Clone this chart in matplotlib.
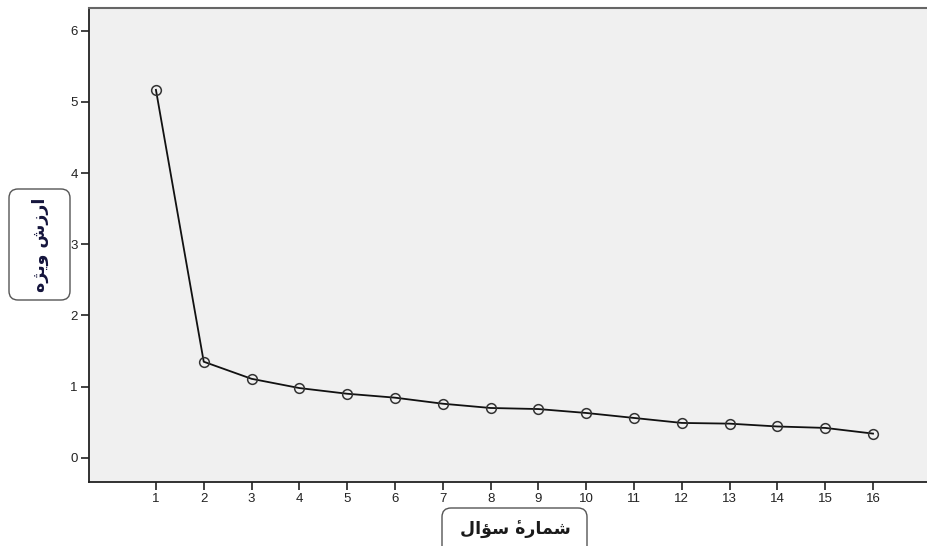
import matplotlib
matplotlib.use("Agg")
import matplotlib.pyplot as plt
import matplotlib.patches as mpatches
from matplotlib.transforms import IdentityTransform

# Data
components = list(range(1, 17))
eigenvalues = [5.17, 1.35, 1.11, 0.98, 0.90, 0.845, 0.76, 0.70,
               0.685, 0.63, 0.56, 0.49, 0.48, 0.44, 0.42, 0.34]
y_ticks = [0, 1, 2, 3, 4, 5, 6]
# Persian labels in visual (shaped) order: "ارزش ویژه" and "شمارهٔ سؤال"
y_label = "\uFEE9\uFB8B\uFBFE\uFEED \uFEB5\uFEAF\uFEAD\uFE8D"
x_label = "\uFEDD\uFE8D\uFE86\uFEB3 \u0654\uFEE9\uFEAD\uFE8E\uFEE4\uFEB7"

W, H = 928, 546
fig = plt.figure(figsize=(W / 100, H / 100), dpi=100)
fig.patch.set_facecolor("white")
ax = fig.add_axes([89 / W, (H - 482) / H, (W - 89) / W, (482 - 8) / H])
ax.set_facecolor("#f0f0f0")

ax.plot(components, eigenvalues, color="#111111", linewidth=1.3,
        marker="o", markersize=7, markerfacecolor="none",
        markeredgecolor="#333333", markeredgewidth=1.1)

ax.set_xlim(-0.40, 17.15)
ax.set_ylim(-0.34, 6.32)
ax.set_xticks(components)
ax.set_yticks(y_ticks)
ax.tick_params(direction="out", length=6, width=1.2, color="#222222",
               labelsize=9.5, labelcolor="#222222", pad=2)
for lab in ax.get_xticklabels() + ax.get_yticklabels():
    lab.set_family(["Liberation Sans", "DejaVu Sans"])

ax.spines["right"].set_visible(False)
ax.spines["top"].set_color("#666666")
ax.spines["top"].set_linewidth(1.5)
ax.spines["left"].set_color("#222222")
ax.spines["left"].set_linewidth(1.3)
ax.spines["bottom"].set_color("#222222")
ax.spines["bottom"].set_linewidth(1.3)

# Label boxes (pixel coordinates, origin bottom-left)
ybox = mpatches.FancyBboxPatch((9, 246), 61, 111,
                               boxstyle="round,pad=0,rounding_size=9",
                               transform=IdentityTransform(),
                               facecolor="white", edgecolor="#555555",
                               linewidth=1.0, zorder=5)
fig.patches.append(ybox)
fig.text(40 / W, 301 / H, y_label, rotation=90, ha="center", va="center",
         fontsize=12.5, fontweight="bold", color="#14143c",
         family=["DejaVu Sans"], zorder=6)

xbox = mpatches.FancyBboxPatch((442, -12), 145, 50,
                               boxstyle="round,pad=0,rounding_size=9",
                               transform=IdentityTransform(),
                               facecolor="white", edgecolor="#555555",
                               linewidth=1.0, zorder=5)
fig.patches.append(xbox)
fig.text(515 / W, 16 / H, x_label, ha="center", va="center",
         fontsize=12.5, fontweight="bold", color="#1a1a1a",
         family=["DejaVu Sans"], zorder=6)

fig.savefig("out.png", dpi=100)
